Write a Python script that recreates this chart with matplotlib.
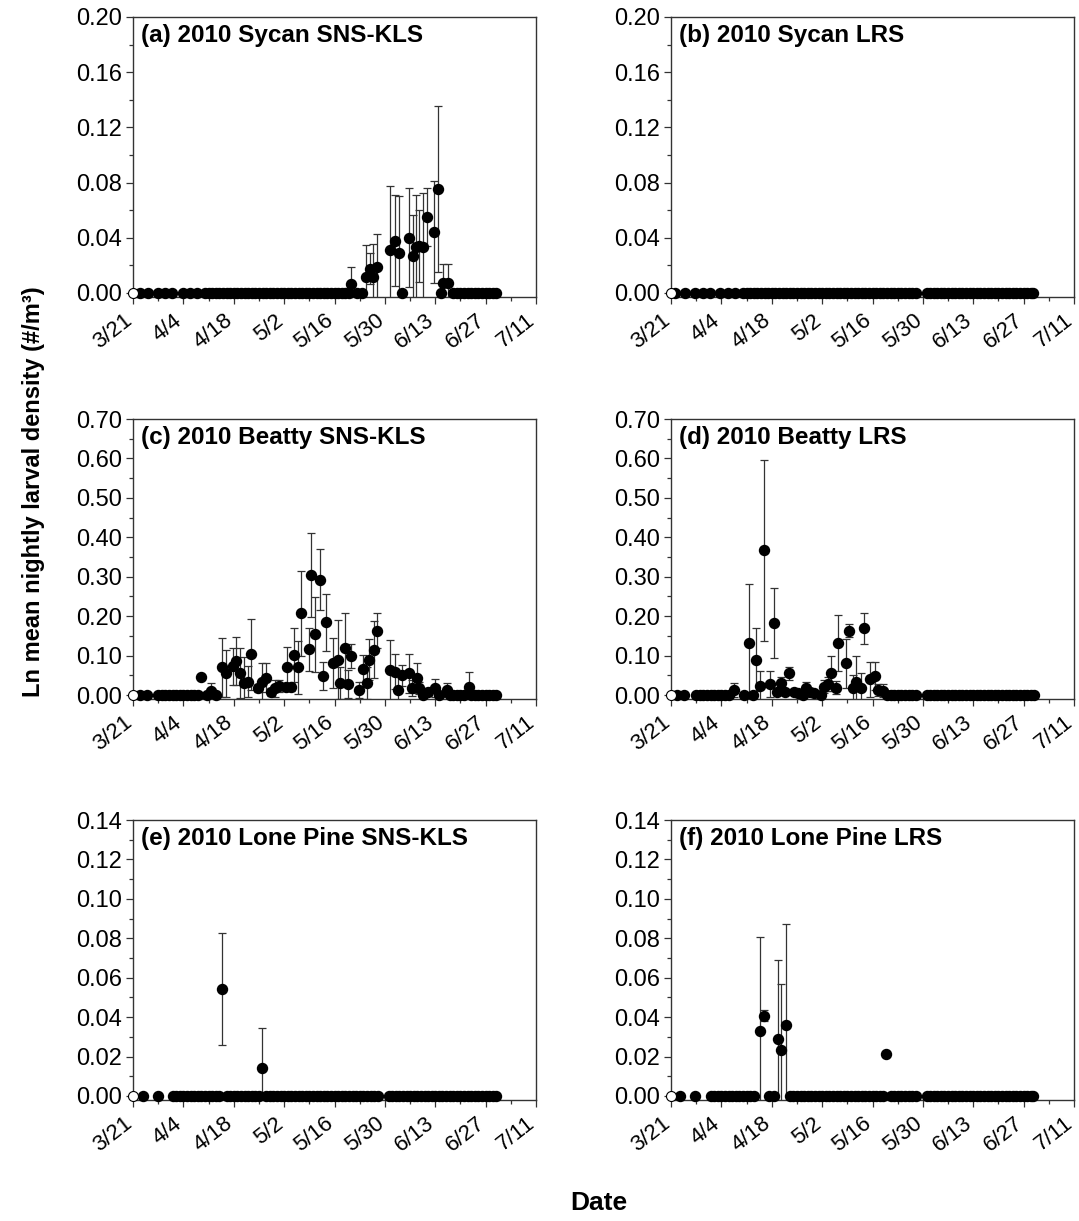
import matplotlib.pyplot as plt
from matplotlib.ticker import MultipleLocator, FormatStrFormatter
from matplotlib.transforms import ScaledTranslation

plt.rcParams['font.family'] = ['Liberation Sans', 'DejaVu Sans']

# x axis is days after 3/21/2010
tick_days = [0, 14, 28, 42, 56, 70, 84, 98, 112]
tick_labels = ['3/21', '4/4', '4/18', '5/2', '5/16', '5/30', '6/13', '6/27', '7/11']

# (a) Sycan SNS-KLS
a_days = [60.7, 64.8, 65.8, 66.7, 67.8, 71.5, 72.7, 73.9, 76.7, 77.8,
          78.5, 79.4, 80.7, 81.7, 83.6, 84.7, 86.1, 87.5]
a_mean = [0.0065, 0.0116, 0.0177, 0.0116, 0.019, 0.0314, 0.038, 0.029, 0.040, 0.0266,
          0.033, 0.034, 0.0334, 0.0547, 0.044, 0.0752, 0.0073, 0.0073]
a_se = [0.012, 0.023, 0.011, 0.024, 0.024, 0.046, 0.033, 0.041, 0.036, 0.030,
        0.038, 0.026, 0.039, 0.021, 0.037, 0.060, 0.014, 0.014]
a_zero = ([1.9, 4.1, 7, 8.9, 10.7, 14, 15.8, 17.9] + list(range(20, 61))
          + [62.3, 63.5, 74.8, 85.6] + list(range(89, 102)))

# (b) Sycan LRS - nothing caught
b_days, b_mean, b_se = [], [], []
b_zero = ([1.1, 3.9, 6.7, 8.9, 10.8, 13.6, 15.8, 17.8] + list(range(20, 69))
          + list(range(71, 101)) + [100.6])

# (c) Beatty SNS-KLS
c_days = [18.8, 21.8, 24.7, 25.9, 27.8, 28.7, 29.8, 30.7, 31.9, 32.9,
          34.7, 35.9, 37.0, 38.4, 39.4, 40.7, 42.6, 42.8, 44.0, 44.6,
          45.8, 46.8, 48.8, 49.5, 50.7, 51.9, 52.8, 53.7, 55.6, 57.0,
          57.4, 58.8, 59.7, 60.7, 62.8, 63.9, 65.0, 65.7, 66.9, 67.8,
          71.5, 72.7, 73.6, 74.8, 76.8, 77.6, 78.9, 79.6, 81.9, 83.9,
          87.3, 93.3]
c_mean = [0.046, 0.010, 0.070, 0.055, 0.073, 0.087, 0.055, 0.030, 0.034, 0.103,
          0.017, 0.034, 0.044, 0.008, 0.017, 0.023, 0.021, 0.070, 0.021, 0.101,
          0.070, 0.207, 0.116, 0.304, 0.154, 0.293, 0.049, 0.184, 0.082, 0.089,
          0.030, 0.120, 0.028, 0.099, 0.013, 0.067, 0.030, 0.090, 0.115, 0.163,
          0.063, 0.059, 0.013, 0.050, 0.055, 0.017, 0.044, 0.017, 0.008, 0.017,
          0.013, 0.021]
c_se = [0.0, 0.020, 0.075, 0.060, 0.047, 0.061, 0.063, 0.067, 0.040, 0.090,
        0.010, 0.046, 0.036, 0.010, 0.021, 0.015, 0.010, 0.052, 0.010, 0.069,
        0.067, 0.108, 0.055, 0.106, 0.095, 0.078, 0.035, 0.073, 0.063, 0.101,
        0.040, 0.089, 0.035, 0.031, 0.020, 0.034, 0.040, 0.053, 0.073, 0.044,
        0.076, 0.044, 0.042, 0.026, 0.050, 0.020, 0.038, 0.015, 0.010, 0.023,
        0.018, 0.038]
c_zero = ([1.9, 4.0] + list(range(7, 19)) + [20.5, 23, 80.5, 85]
          + [88, 89, 90, 91, 92, 94, 95, 96, 97, 98, 99, 100, 101])

# (d) Beatty LRS
d_days = [17.6, 21.8, 23.6, 24.7, 25.7, 27.6, 28.5, 29.4, 30.6, 31.7,
          32.7, 34.3, 35.2, 37.5, 38.7, 39.8, 42.4, 43.5, 44.4, 45.8,
          46.4, 48.6, 49.5, 50.5, 51.4, 52.8, 53.7, 55.4, 56.6, 57.6,
          58.8]
d_mean = [0.013, 0.131, 0.090, 0.023, 0.367, 0.028, 0.183, 0.008, 0.030, 0.008,
          0.055, 0.008, 0.006, 0.017, 0.008, 0.006, 0.021, 0.028, 0.055, 0.019,
          0.131, 0.080, 0.163, 0.019, 0.034, 0.019, 0.169, 0.040, 0.048, 0.013,
          0.011]
d_se = [0.018, 0.150, 0.079, 0.039, 0.230, 0.034, 0.089, 0.0, 0.016, 0.0,
        0.017, 0.0, 0.0, 0.017, 0.008, 0.0, 0.017, 0.017, 0.045, 0.017,
        0.071, 0.063, 0.016, 0.031, 0.065, 0.036, 0.040, 0.044, 0.036, 0.015,
        0.016]
d_zero = ([1.7, 3.7] + list(range(7, 17)) + [20.4, 22.7, 36.6, 41.7]
          + list(range(60, 69)) + list(range(71, 102)))

# (e) Lone Pine SNS-KLS
e_days = [24.8, 35.8]
e_mean = [0.0544, 0.0144]
e_se = [0.0285, 0.0200]
e_zero = ([2.8, 7] + [d for d in range(11, 69) if d not in (25, 36)]
          + list(range(71, 102)))

# (f) Lone Pine LRS
f_days = [24.7, 25.8, 29.8, 30.7, 31.9, 59.7]
f_mean = [0.0332, 0.0407, 0.0288, 0.0234, 0.0361, 0.0214]
f_se = [0.0475, 0.0027, 0.0400, 0.0334, 0.0514, 0.0]
f_zero = ([2.5, 6.7] + list(range(11, 24)) + [27.3, 28.6]
          + [d for d in range(33, 69) if d != 60] + list(range(71, 101)) + [100.6])

panels = [
    ('(a) 2010 Sycan SNS-KLS', a_days, a_mean, a_se, a_zero, 0.20, 0.04),
    ('(b) 2010 Sycan LRS', b_days, b_mean, b_se, b_zero, 0.20, 0.04),
    ('(c) 2010 Beatty SNS-KLS', c_days, c_mean, c_se, c_zero, 0.70, 0.10),
    ('(d) 2010 Beatty LRS', d_days, d_mean, d_se, d_zero, 0.70, 0.10),
    ('(e) 2010 Lone Pine SNS-KLS', e_days, e_mean, e_se, e_zero, 0.14, 0.02),
    ('(f) 2010 Lone Pine LRS', f_days, f_mean, f_se, f_zero, 0.14, 0.02),
]

fig = plt.figure(figsize=(10.79, 12.21), dpi=100)
lefts = [0.1233, 0.6219]
bottoms = [0.7568, 0.4275, 0.0991]
w, h = 0.3735, 0.2293
spine_col = '#333333'
ms = 7.2
label_shift = ScaledTranslation(-0.10, -0.13, fig.dpi_scale_trans)

for i, (title, days, mean, se, zero, ymax, ystep) in enumerate(panels):
    ax = fig.add_axes([lefts[i % 2], bottoms[i // 2], w, h])
    if days:
        ax.errorbar(days, mean, yerr=se, fmt='none', ecolor='#333333',
                    elinewidth=0.9, capsize=2.8, capthick=0.9, zorder=2)
        ax.plot(days, mean, 'o', color='black', ms=ms, zorder=3, clip_on=False)
    ax.plot(zero, [0] * len(zero), 'o', color='black', ms=ms, zorder=3, clip_on=False)
    # hollow marker at the origin
    ax.plot([0], [0], 'o', mfc='white', mec='black', mew=0.8, ms=ms,
            zorder=4, clip_on=False)

    ax.set_xlim(0, 112)
    ax.set_ylim(-0.0145 * ymax, ymax)
    ax.set_xticks(tick_days)
    ax.set_xticklabels([])
    # rotated date labels, placed by hand so the last one stays inside the figure
    for d, lab in zip(tick_days, tick_labels):
        ax.text(d, 0, lab, transform=ax.get_xaxis_transform() + label_shift,
                rotation=38, ha='right', va='top', rotation_mode='anchor',
                fontsize=16)
    ax.xaxis.set_minor_locator(MultipleLocator(7))
    ax.yaxis.set_major_locator(MultipleLocator(ystep))
    ax.yaxis.set_minor_locator(MultipleLocator(ystep / 2))
    ax.yaxis.set_major_formatter(FormatStrFormatter('%.2f'))
    ax.tick_params(which='major', direction='out', length=5, width=0.9,
                   color=spine_col, pad=3)
    ax.tick_params(axis='y', labelsize=17)
    ax.tick_params(which='minor', direction='out', length=3, width=0.9,
                   color=spine_col)
    for s in ax.spines.values():
        s.set_color(spine_col)
        s.set_linewidth(1.0)
    ax.text(0.019, 0.975, title, transform=ax.transAxes, ha='left', va='top',
            fontsize=17.5, fontweight='bold')

fig.text(0.0306, 0.597, 'Ln mean nightly larval density (#/m\u00b3)', rotation=90,
         ha='center', va='center', fontsize=17, fontweight='bold')
fig.text(0.555, 0.0147, 'Date', ha='center', va='center', fontsize=19,
         fontweight='bold')

fig.savefig('out.png', dpi=100)
